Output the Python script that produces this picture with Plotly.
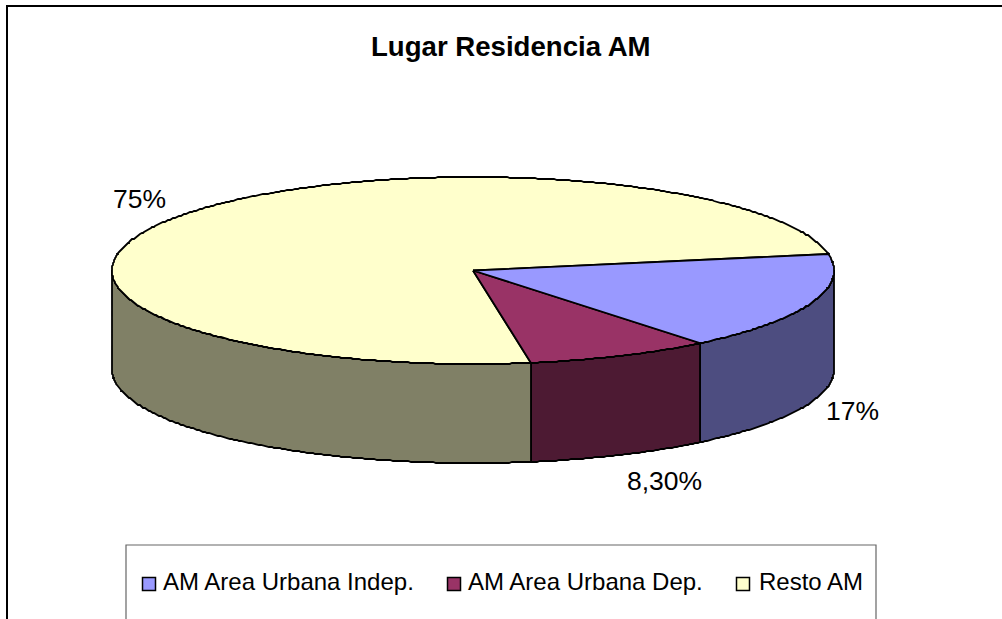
import numpy as np
import plotly.graph_objects as go

# ---- data ----
title = "Lugar Residencia AM"
categories = ["AM Area Urbana Indep.", "AM Area Urbana Dep.", "Resto AM"]
values = [17, 8.3, 75]
value_labels = ["17%", "8,30%", "75%"]
top_colors = ["#9999FF", "#993366", "#FFFFCC"]
side_colors = ["#4D4D80", "#4D1A33", "#808066"]

# ---- pie geometry in page pixels ----
CX, CY, RX, RY, DEPTH = 473, 270.5, 361, 93.5, 99
START_DEG = -10


def arc(a0, a1, dy=0):
    n = max(2, int(abs(a1 - a0) / 0.5) + 1)
    t = np.radians(np.linspace(a0, a1, n))
    x = CX + RX * np.cos(t)
    y = CY + dy + RY * np.sin(t)
    # slightly stepped outline, as in the original rendering
    return np.round(x), np.round(y)


fig = go.Figure()
total = sum(values)
angles = np.concatenate([[START_DEG], START_DEG + np.cumsum(values) / total * 360])


def poly(x, y, color):
    fig.add_trace(go.Scatter(x=list(x), y=list(y), mode="lines", fill="toself", fillcolor=color,
                             line=dict(color="black", width=1.8), hoverinfo="skip", showlegend=False))


# side walls (only the front half, 0..180 degrees)
for i, c in enumerate(side_colors):
    a0, a1 = max(angles[i], 0), min(angles[i + 1], 180)
    if a1 <= a0:
        continue
    x1, y1 = arc(a0, a1)
    x2, y2 = arc(a1, a0, DEPTH)
    poly(np.r_[x1, x2, x1[0]], np.r_[y1, y2, y1[0]], c)

# top faces, drawn last slice first
for i in [2, 1, 0]:
    x, y = arc(angles[i], angles[i + 1])
    poly(np.r_[CX, x, CX], np.r_[CY, y, CY], top_colors[i])

FONT = "Liberation Sans"
shapes = [
    dict(type="rect", x0=7, y0=6, x1=1020, y1=640, line=dict(color="black", width=2)),
    dict(type="rect", x0=126, y0=545, x1=876, y1=640, line=dict(color="#666666", width=1.2), fillcolor="white"),
]
annotations = [dict(x=511, y=46, text=f"<b>{title}</b>", showarrow=False, xanchor="center", yanchor="middle",
                    font=dict(family=FONT, size=27.6, color="black"))]

label_pos = [(852.5, 411), (664, 481), (139.5, 198.5)]
for t, (x, y) in zip(value_labels, label_pos):
    annotations.append(dict(x=x, y=y, text=t, showarrow=False, xanchor="center", yanchor="middle",
                            font=dict(family=FONT, size=26.5, color="black")))

legend_swatch_x = [142.5, 447.5, 736.5]
legend_text_x = [161, 466, 757]
for name, col, sx, tx in zip(categories, top_colors, legend_swatch_x, legend_text_x):
    shapes.append(dict(type="rect", x0=sx, y0=577.5, x1=sx + 13, y1=590.5, fillcolor=col,
                       line=dict(color="black", width=1.5)))
    annotations.append(dict(x=tx, y=581.5, text=name, showarrow=False, xanchor="left", yanchor="middle",
                            font=dict(family=FONT, size=24, color="black")))

fig.update_layout(
    width=1002, height=619, margin=dict(l=0, r=0, t=0, b=0, pad=0),
    paper_bgcolor="white", plot_bgcolor="white", showlegend=False,
    xaxis=dict(range=[0, 1002], visible=False, fixedrange=True),
    yaxis=dict(range=[619, 0], visible=False, fixedrange=True),
    shapes=shapes, annotations=annotations,
)
fig.write_html("out.html", config={"displayModeBar": False},
               post_script="document.body.style.margin='0';document.body.style.overflow='hidden';")
